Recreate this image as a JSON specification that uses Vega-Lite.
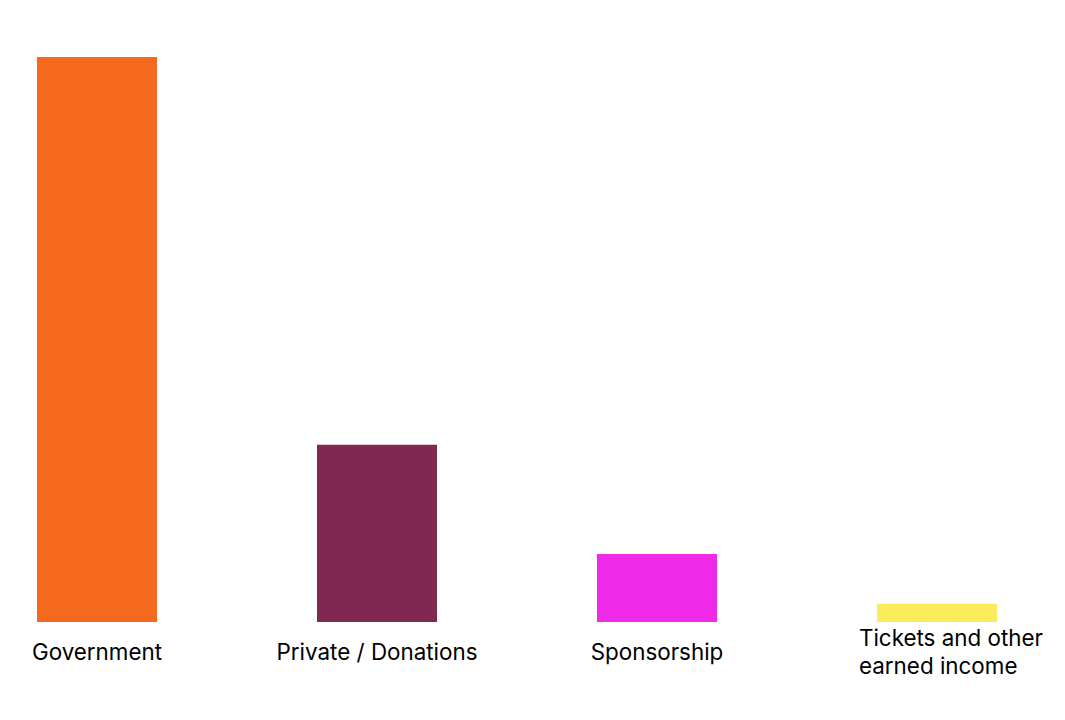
{
  "$schema": "https://vega.github.io/schema/vega-lite/v6.json",
  "autosize": "none",
  "width": 960,
  "height": 565,
  "padding": {"left": 37, "top": 57, "right": 68, "bottom": 98},
  "background": "white",
  "data": {
    "values": [
      {"source": "Government", "share": 68.2},
      {"source": "Private / Donations", "share": 21.4},
      {"source": "Sponsorship", "share": 8.2},
      {"source": "Tickets and other earned income", "share": 2.2}
    ]
  },
  "mark": {"type": "bar"},
  "encoding": {
    "x": {
      "field": "source",
      "type": "nominal",
      "sort": null,
      "scale": {"paddingInner": 0.5714, "paddingOuter": 0},
      "axis": {
        "title": null,
        "domain": false,
        "ticks": false,
        "labelAngle": 0,
        "labelFont": "Inter",
        "labelFontSize": 22.4,
        "labelColor": "#000000",
        "labelBaseline": "middle",
        "labelLineHeight": 28,
        "labelLimit": 0,
        "labelOverlap": false,
        "labelBound": false,
        "labelFlush": false,
        "labelExpr": "datum.value == 'Tickets and other earned income' ? ['Tickets and other', 'earned income'] : datum.label",
        "labelAlign": {"condition": {"test": "datum.value == 'Tickets and other earned income'", "value": "left"}, "value": "center"},
        "labelOffset": {"condition": {"test": "datum.value == 'Tickets and other earned income'", "value": -78}, "value": 0},
        "labelPadding": {"condition": {"test": "datum.value == 'Tickets and other earned income'", "value": 16}, "value": 30}
      }
    },
    "y": {
      "field": "share",
      "type": "quantitative",
      "scale": {"domain": [0, 68.2], "nice": false, "zero": true},
      "axis": null
    },
    "color": {
      "field": "source",
      "type": "nominal",
      "sort": null,
      "scale": {
        "domain": ["Government", "Private / Donations", "Sponsorship", "Tickets and other earned income"],
        "range": ["#F5691F", "#812852", "#EE29E7", "#FBEC5D"]
      },
      "legend": null
    }
  },
  "config": {"view": {"stroke": null}}
}
